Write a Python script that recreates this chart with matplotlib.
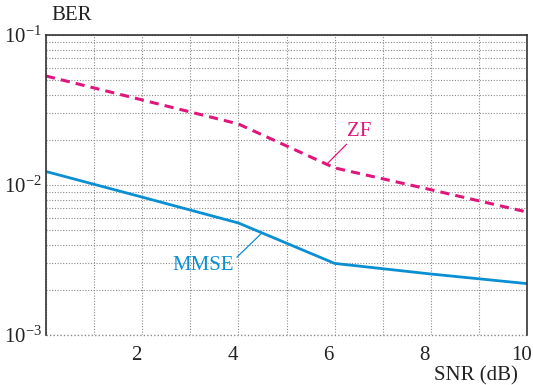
"""
BER vs SNR for ZF and MMSE detectors.
"""
from matplotlib import pyplot as plt
from matplotlib.ticker import FixedLocator, LogLocator, NullFormatter
from matplotlib.transforms import ScaledTranslation

plt.rcParams['font.family'] = ['Liberation Serif', 'DejaVu Serif']
plt.rcParams['mathtext.fontset'] = 'custom'
plt.rcParams['mathtext.rm'] = 'Liberation Serif'
plt.rcParams['mathtext.it'] = 'Liberation Serif'

snr = [0, 2, 4, 6, 8, 10]
ber_zf = [0.0533, 0.0369, 0.0255, 0.0130, 0.0093, 0.0066]
ber_mmse = [0.0123, 0.0083, 0.00558, 0.0030, 0.00255, 0.0022]
xticks = [2, 4, 6, 8, 10]
yticks = [1e-3, 1e-2, 1e-1]
ytick_labels = ['$10^{-3}$', '$10^{-2}$', '$10^{-1}$']

zf_color = '#e0177b'
mmse_color = '#0a8fd2'
grid_color = '#8a8a8a'

fig = plt.figure(figsize=(5.33, 3.85), dpi=100)
ax = fig.add_axes([0.0863, 0.1299, 0.9027, 0.7792])

ax.semilogy(snr, ber_zf, color=zf_color, lw=2.2, ls=(0, (3, 2)))
ax.semilogy(snr, ber_mmse, color=mmse_color, lw=2.0)

ax.set_xlim(0, 10)
ax.set_ylim(1e-3, 1e-1)
ax.xaxis.set_major_locator(FixedLocator(xticks))
ax.xaxis.set_minor_locator(FixedLocator(range(0, 11)))
ax.yaxis.set_major_locator(FixedLocator(yticks))
ax.yaxis.set_minor_locator(LogLocator(base=10, subs=range(2, 10)))
ax.yaxis.set_minor_formatter(NullFormatter())
ax.set_yticklabels(ytick_labels)
ax.tick_params(which='both', length=0, labelsize=15, colors='#222222')
ax.tick_params(axis='x', pad=8)
ax.tick_params(axis='y', pad=3)
shift = ScaledTranslation(-6 / 100, 0, fig.dpi_scale_trans)
for lbl in ax.get_xticklabels():
    lbl.set_transform(lbl.get_transform() + shift)

ax.grid(which='both', color=grid_color, ls=(0, (1, 1.5)), lw=0.8)
ax.axhline(1e-3, color=grid_color, ls=(0, (1, 1.5)), lw=1.0, clip_on=False)
for side in ['left', 'top', 'right']:
    ax.spines[side].set_linewidth(1.2)
    ax.spines[side].set_color('#333333')
ax.spines['bottom'].set_visible(False)

fig.text(0.097, 0.935, 'BER', fontsize=15, color='#222222', va='bottom')
fig.text(0.972, 0.0, 'SNR (dB)', fontsize=15, color='#222222', ha='right', va='bottom')

ax.annotate('ZF', xy=(5.83, 0.0137), xytext=(6.5, 0.0195), color=zf_color,
            fontsize=15, ha='center', va='bottom',
            arrowprops=dict(arrowstyle='-', color=zf_color, lw=0.9, shrinkA=0, shrinkB=0))
ax.annotate('MMSE', xy=(4.49, 0.0048), xytext=(3.27, 0.0029), color=mmse_color,
            fontsize=15, ha='center', va='center',
            arrowprops=dict(arrowstyle='-', color=mmse_color, lw=0.9, shrinkA=0, shrinkB=0,
                            relpos=(1, 0.8)))

fig.savefig('out.png', dpi=100)
